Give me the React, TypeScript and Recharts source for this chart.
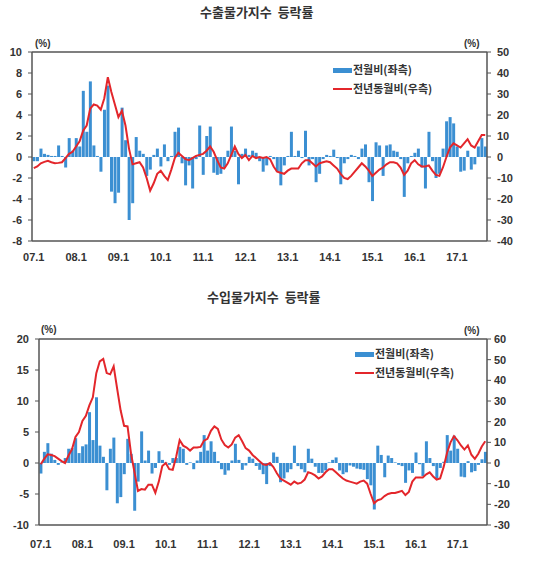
import React from "react";
import { ComposedChart, Bar, Line, XAxis, YAxis } from "recharts";

// months 07.1 .. 17.9
const YEARS = ["07", "08", "09", "10", "11", "12", "13", "14", "15", "16", "17"];
const MONTHS = [1, 2, 3, 4, 5, 6, 7, 8, 9, 10, 11, 12];
const LAST_MONTH = 9;
const PERIODS: string[] = [];
YEARS.forEach((y, yi) =>
  MONTHS.forEach((m) => {
    if (yi < YEARS.length - 1 || m <= LAST_MONTH) PERIODS.push(`${y}.${m}`);
  })
);
const YEAR_TICKS = YEARS.map((y) => `${y}.1`);

// 수출물가 전월비 (%, left axis)
const EX_MOM = [
  -0.4, -0.4, 0.8, 0.3, 0.2, 0.1, 0.1, 1.1, 0.1, -1.0, 1.8, 0.6,
  1.8, 1.0, 6.3, 2.4, 7.2, 1.1, 0.1, -1.4, 4.5, 6.8, -3.3, -4.4,
  -3.4, 4.7, 1.6, -6.0, -4.4, 1.9, 0.6, 0.3, -1.8, -1.2, 0.2, 0.8,
  -0.9, 1.2, -0.4, 0.1, 2.4, 2.8, -0.6, -2.7, -0.8, -3.0, -0.2, 3.0,
  -1.7, 2.0, 2.9, -1.5, -1.7, -1.6, -1.0, 0.6, 2.9, 0.6, -2.6, 0.3,
  0.8, 0.2, 0.6, 0.4, -0.4, -1.4, -0.8, 0.1, -0.2, -1.4, -2.7, -0.8,
  0.1, 2.4, 0.1, 0.6, -0.1, 2.5, -0.8, -0.2, -2.4, -1.6, -0.2, 0.2,
  0.1, 0.7, -0.1, -2.6, -0.6, -0.2, 0.2, 0.1, -0.2, 0.8, 1.2, -2.4,
  -4.2, 1.4, 1.1, -1.8, 1.1, 1.2, 0.6, 0.5, -0.2, -3.8, -0.6, 0.1,
  0.4, 0.8, -1.0, -3.0, 2.4, -0.4, -2.0, -1.6, 0.8, 3.4, 3.8, 3.2,
  1.0, -1.4, -1.3, 0.6, -1.2, -0.7, 1.0, 1.8, 1.0,
];

// 수출물가 전년동월비 (%, right axis)
const EX_YOY = [
  -5.3, -4.5, -3, -2.3, -1.8, -2.5, -3, -2.8, -2.5, -0.5, 1.5, 2.5,
  5, 7.5, 12.5, 15, 23, 25, 24.5, 22.5, 28, 38, 31, 25,
  19, 22, 15, 4, -3.5, -3, -2.5, -5, -10, -16, -12.5, -8,
  -6.5, -9, -11, -6, -0.5, 2, 0.5, -1, -1.5, -0.5, 0.5, 1,
  1.5, 3, 5, 2.5, -1.5, -5, -5.5, -3, 1, 5, 1.5, -0.5,
  1, -1.5, 0.5, -0.5, 0, -0.5, 0, -1, -4.5, -7, -7.5, -8,
  -6.5, -5.5, -5.5, -5.5, -3, -1.5, -1.5, -3, -4.5, -3, -2.5, -2,
  -2.5, -4, -5.5, -8, -10, -10.5, -9, -7, -5, -3, -4.5, -6.5,
  -9, -7.5, -6, -5, -3.5, -2.5, -2.5, -3, -5, -8.5, -6.5, -3,
  -1.5, -3.5, -4.5, -4.5, -4, -6.5, -8.5, -9, -5, 0, 4.5, 6.5,
  5.5, 4.5, 6.5, 8.5, 5.5, 4.5, 7.5, 10.5, 10.5,
];

// 수입물가 전월비 (%, left axis)
const IM_MOM = [
  -1.7, 1.8, 3.2, 1.5, 0.5, -0.3, 0.1, 0.8, 2.3, 2.4, 4.0, 1.6,
  2.7, 3.0, 8.2, 3.7, 10.6, 2.8, 1.0, -4.4, 2.3, 4.1, -6.5, -5.5,
  -1.8, 3.9, 1.5, -7.7, -3.0, 5.1, 0.4, 2.0, -1.7, -0.8, 1.9, 0.5,
  0.1, -0.3, 0.8, 0.8, 2.6, 2.3, -0.3, 0.1, -1.0, 0.4, 1.8, 4.5,
  2.0, 3.5, 1.8, 0.3, -1.0, -1.9, -1.2, 0.4, 3.1, 0.5, -1.1, -0.4,
  1.0, 0.7, -0.5, -1.1, -1.8, -3.4, -0.5, 1.7, 1.0, -3.1, -2.5, -1.5,
  -1.0, 2.8, -0.5, -1.0, -1.5, 2.3, 0.7, -0.6, -1.6, -1.6, -1.2, 0.1,
  0.5, 0.9, -1.2, -1.8, -1.5, -0.4, -0.6, -0.9, -1.0, -1.1, -2.6, -3.6,
  -7.5, 2.8, 1.3, -2.3, 1.2, 0.8, 0.1, -0.3, -0.5, -3.2, -1.2, -1.6,
  1.7, -0.2, -2.1, 3.5, 0.8, -0.5, -2.5, -0.8, 0.2, 4.5, 2.0, 4.4,
  2.3, -2.2, -2.3, 0.3, -1.5, -1.3, -0.3, 0.6, 1.8,
];

// 수입물가 전년동월비 (%, right axis)
const IM_YOY = [
  -0.6, 2, 4.2, 3.9, 3.3, 2.1, 0.9, 0, 3.6, 6.6, 12.6, 15,
  20.4, 22.8, 27.9, 31.8, 43.5, 49.2, 50.4, 43.5, 42.9, 46.8, 36, 25.5,
  18, 17.7, 4.5, -4.5, -13.5, -12.6, -12.9, -10.5, -10.5, -14.4, -9, -1.5,
  0, -3, -3.3, 3, 11.1, 8.4, 7.5, 6, 7.5, 7.5, 7.8, 10.8,
  11.7, 15.6, 17.7, 16.5, 11.4, 8.7, 7.5, 9, 12.3, 13.5, 10.5, 7.2,
  6, 3.9, 2.4, 0.9, -0.6, -0.9, 0, -2, -5, -7.5, -8.5, -9.5,
  -10.5, -9, -10, -9.5, -8, -4.5, -5, -6, -7.5, -6.5, -4.5, -3,
  -3, -4.5, -6, -7.5, -8.5, -9, -9.5, -10, -9, -8.5, -10, -15,
  -19.5, -18, -17.5, -16, -15, -14.5, -14.5, -14, -13.5, -15.5, -14, -9,
  -7, -7, -7, -5.5, -4.5, -6.5, -8, -7.5, -2, 5, 10, 13,
  11, 8.5, 6.5, 8.5, 4, 2, 4.5, 8, 10.5,
];

const EX_LEFT_TICKS = [-8, -6, -4, -2, 0, 2, 4, 6, 8, 10];
const EX_RIGHT_TICKS = [-40, -30, -20, -10, 0, 10, 20, 30, 40, 50];
const IM_LEFT_TICKS = [-10, -5, 0, 5, 10, 15, 20];
const IM_RIGHT_TICKS = [-30, -20, -10, 0, 10, 20, 30, 40, 50, 60];

const BAR_COLOR = "#3b8fd2";
const LINE_COLOR = "#e3262b";
const FRAME = "#555";
const TEXT = "#333";
const NUM_FONT = "'Liberation Sans', Arial, sans-serif";
const KR_FONT = "'Noto Sans CJK KR', 'Noto Sans', sans-serif";

const tickStyle = { fontSize: 11, fontWeight: 700, fill: TEXT, fontFamily: NUM_FONT };

const exRows = PERIODS.map((p, i) => ({ p, mom: EX_MOM[i], yoy: EX_YOY[i] }));
const imRows = PERIODS.map((p, i) => ({ p, mom: IM_MOM[i], yoy: IM_YOY[i] }));

interface PanelProps {
  rows: any[];
  height: number;
  leftWidth: number;
  leftTicks: number[];
  rightTicks: number[];
  xTickMargin: number;
  rightTickMargin: number;
}

const Panel: React.FC<PanelProps> = ({ rows, height, leftWidth, leftTicks, rightTicks, xTickMargin, rightTickMargin }) => (
  <ComposedChart
    width={540}
    height={height}
    data={rows}
    margin={{ top: 51, right: 0, bottom: 9, left: 0 }}
    barCategoryGap="12%"
  >
    <XAxis
      xAxisId="top"
      dataKey="p"
      orientation="top"
      height={1}
      tick={false}
      tickLine={false}
      axisLine={{ stroke: FRAME, strokeWidth: 1.5 }}
    />
    <XAxis
      dataKey="p"
      ticks={YEAR_TICKS}
      interval={0}
      height={20}
      tickLine={false}
      tickMargin={xTickMargin}
      axisLine={{ stroke: FRAME, strokeWidth: 1.5 }}
      tick={tickStyle}
    />
    <YAxis
      yAxisId="L"
      domain={[leftTicks[0], leftTicks[leftTicks.length - 1]]}
      ticks={leftTicks}
      interval={0}
      width={leftWidth}
      tickSize={4}
      tickMargin={6}
      allowDataOverflow
      axisLine={{ stroke: FRAME, strokeWidth: 1.5 }}
      tickLine={{ stroke: FRAME }}
      tick={tickStyle}
    />
    <YAxis
      yAxisId="R"
      orientation="right"
      domain={[rightTicks[0], rightTicks[rightTicks.length - 1]]}
      ticks={rightTicks}
      interval={0}
      width={53}
      tickSize={4}
      tickMargin={rightTickMargin}
      allowDataOverflow
      axisLine={{ stroke: FRAME, strokeWidth: 1.5 }}
      tickLine={{ stroke: FRAME }}
      tick={{ ...tickStyle, textAnchor: "start" }}
    />
    <Bar yAxisId="L" dataKey="mom" fill={BAR_COLOR} isAnimationActive={false} />
    <Line
      yAxisId="R"
      dataKey="yoy"
      type="linear"
      stroke={LINE_COLOR}
      strokeWidth={2}
      dot={false}
      activeDot={false}
      isAnimationActive={false}
    />
  </ComposedChart>
);

const abs = (left: number, top: number, extra: React.CSSProperties = {}): React.CSSProperties => ({
  position: "absolute",
  left,
  top,
  whiteSpace: "nowrap",
  ...extra,
});

const LegendBox: React.FC<{ left: number; top: number }> = ({ left, top }) => (
  <>
    <div style={abs(left, top - 2, { width: 19, height: 5, background: BAR_COLOR })} />
    <div style={abs(left + 20, top - 8, { fontSize: 11, fontWeight: 700, color: TEXT, fontFamily: KR_FONT, lineHeight: "15px" })}>
      전월비(좌측)
    </div>
    <div style={abs(left, top + 18, { width: 19, height: 2, background: LINE_COLOR })} />
    <div style={abs(left + 20, top + 11, { fontSize: 11, fontWeight: 700, color: TEXT, fontFamily: KR_FONT, lineHeight: "15px" })}>
      전년동월비(우측)
    </div>
  </>
);

const unitStyle: React.CSSProperties = { fontSize: 10, fontWeight: 700, color: TEXT, fontFamily: NUM_FONT, lineHeight: "12px" };
const titleStyle: React.CSSProperties = { fontSize: 13, fontWeight: 700, color: TEXT, fontFamily: KR_FONT, lineHeight: "16px" };

export default function App() {
  return (
    <div style={{ position: "absolute", left: 0, top: 0, width: 540, height: 573, background: "#fff", overflow: "hidden" }}>
      <div style={abs(200, 4, titleStyle)}>수출물가지수&nbsp;&nbsp;등락률</div>
      <div style={abs(35, 38, unitStyle)}>(%)</div>
      <div style={abs(464, 38, unitStyle)}>(%)</div>
      <div style={abs(0, 0)}>
        <Panel
          rows={exRows}
          height={270}
          leftWidth={32}
          leftTicks={EX_LEFT_TICKS}
          rightTicks={EX_RIGHT_TICKS}
          xTickMargin={6}
          rightTickMargin={6}
        />
      </div>
      <LegendBox left={333} top={70} />

      <div style={abs(207, 289, titleStyle)}>수입물가지수&nbsp;&nbsp;등락률</div>
      <div style={abs(41, 324, unitStyle)}>(%)</div>
      <div style={abs(464, 325, unitStyle)}>(%)</div>
      <div style={abs(0, 287)}>
        <Panel
          rows={imRows}
          height={267}
          leftWidth={39}
          leftTicks={IM_LEFT_TICKS}
          rightTicks={IM_RIGHT_TICKS}
          xTickMargin={9}
          rightTickMargin={3}
        />
      </div>
      <LegendBox left={355} top={354} />
    </div>
  );
}
